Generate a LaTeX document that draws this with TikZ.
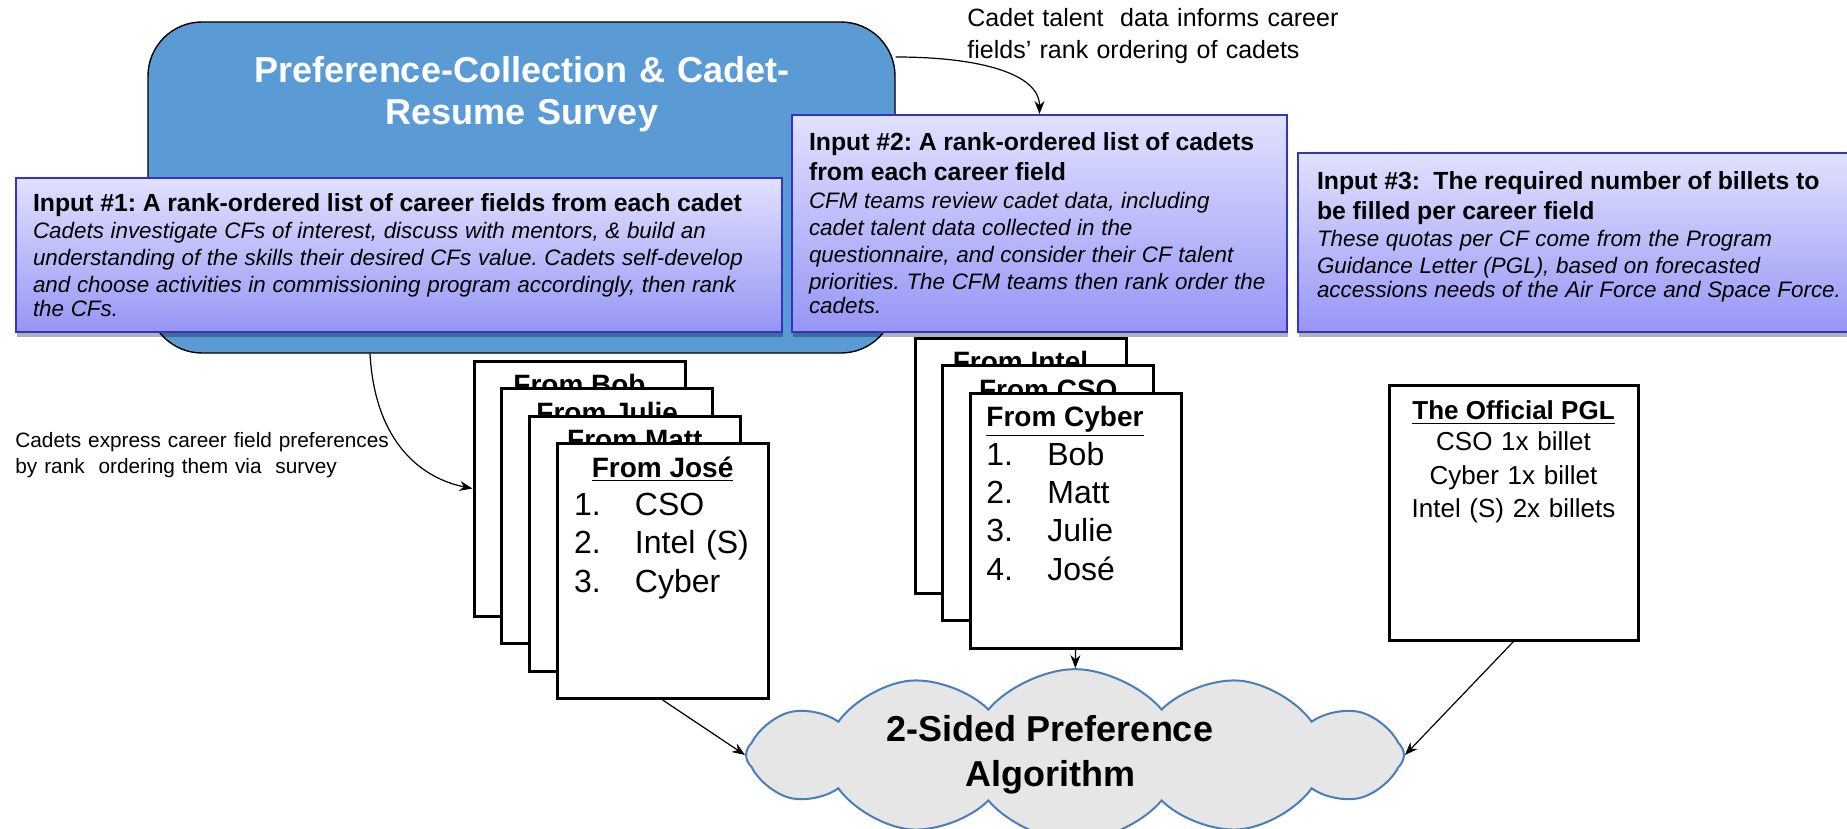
\documentclass[tikz,border=0pt]{standalone}
\usepackage{fontspec}
\setmainfont{Liberation Sans}
\usepackage{xcolor}
\usetikzlibrary{shapes.symbols, arrows.meta, positioning, calc, shadows}

\definecolor{surveyblue}{RGB}{91,155,213}
\definecolor{inputedge}{RGB}{51,51,204}
\definecolor{inputtop}{RGB}{225,225,255}
\definecolor{inputbottom}{RGB}{150,150,245}
\definecolor{cloudgray}{RGB}{230,230,230}
\definecolor{cloudblue}{RGB}{74,126,187}

\frenchspacing
\newcommand{\inhead}{\fontsize{12.4}{15}\selectfont\bfseries\upshape}
\newcommand{\inbody}{\fontsize{11.2}{13.6}\selectfont\mdseries\itshape}
\newcommand{\rankitem}[2]{\makebox[30.5pt][l]{#1.}#2}

\tikzstyle{surveybox} = [rectangle, rounded corners=27pt, draw=black, line width=0.7pt, fill=surveyblue, minimum width=373.5pt, minimum height=165.5pt]
\tikzstyle{inputbox} = [rectangle, draw=inputedge, line width=1pt, top color=inputtop, bottom color=inputbottom, inner xsep=8.5pt, inner ysep=0pt, align=left, drop shadow={shadow xshift=0.5pt, shadow yshift=-2.5pt, fill=black, opacity=0.3}]
\tikzstyle{note} = [anchor=base west, align=left, inner sep=0pt]
\tikzstyle{card} = [rectangle, draw=black, line width=1.5pt, fill=white, minimum width=105.5pt, minimum height=127.5pt, inner sep=0pt]
\tikzstyle{cardhead} = [anchor=base, inner sep=0pt, font=\fontsize{14}{16}\selectfont\bfseries]
\tikzstyle{cardlist} = [anchor=base west, align=left, text width=90pt, inner sep=0pt, font=\fontsize{16}{19.2}\selectfont]
\tikzstyle{algocloud} = [cloud, cloud puffs=12, cloud puff arc=100, cloud ignores aspect, inner sep=0pt, minimum width=329pt, minimum height=62pt, draw=cloudblue, line width=1pt, fill=cloudgray, align=center, font=\fontsize{18}{22.5}\selectfont\bfseries]
\tikzstyle{arrow} = [semithick,->,>={Stealth[length=6.5pt,width=5pt]}]

\begin{document}
\begin{tikzpicture}[x=0.5pt, y=-0.5pt]
\useasboundingbox (0,0) rectangle (1847,829);

% survey and the three inputs
\node (survey) [surveybox] at (521.5,187.5) {};
\node (surveytitle) [anchor=base, align=center, text width=300pt, inner sep=0pt, text=white, font=\fontsize{18}{21}\selectfont\bfseries] at (522,83) {Preference-Collection \& Cadet-\\Resume Survey};

\node (in1) [inputbox, minimum width=383pt, minimum height=77pt, text width=366pt] at (399,255) {\inhead Input \#1: A rank-ordered list of career fields from each cadet\par
\inbody Cadets investigate CFs of interest, discuss with mentors, \& build an\\ understanding of the skills their desired CFs value. Cadets self-develop\\ and choose activities in commissioning program accordingly, then rank\\ the CFs.};
\node (in2) [inputbox, minimum width=247.5pt, minimum height=108.5pt, text width=230.5pt] at (1039.5,223.5) {\inhead Input \#2: A rank-ordered list of cadets\\ from each career field\par
\inbody CFM teams review cadet data, including\\ cadet talent data collected in the\\ questionnaire, and consider their CF talent\\ priorities. The CFM teams then rank order the\\ cadets.};
\node (in3) [inputbox, minimum width=301pt, minimum height=89.5pt, text width=282pt, inner xsep=9.5pt] at (1599,242.5) {\inhead Input \#3:~ The required number of billets to\\ be filled per career field\par
\inbody These quotas per CF come from the Program\\ Guidance Letter (PGL), based on forecasted\\ accessions needs of the Air Force and Space Force.\rule[-8pt]{0pt}{0pt}};

% notes
\node (talentnote) [note, text width=200pt, font=\fontsize{12.5}{16}\selectfont] at (967,27) {Cadet talent~ data informs career\\fields’ rank ordering of cadets};
\node (surveynote) [note, text width=200pt, font=\fontsize{10.4}{13}\selectfont] at (15,447.5) {Cadets express career field preferences\\by rank~ ordering them via~ survey};

% cadet lists
\node (bob) [card] at (579.5,488.5) {};
\node (bobhead) [cardhead] at ([yshift=-17.5pt]bob.north) {\underline{From Bob}};
\node (julie) [card] at ($(bob)+(27.7,27.5)$) {};
\node (juliehead) [cardhead] at ([yshift=-17.5pt]julie.north) {\underline{From Julie}};
\node (matt) [card] at ($(bob)+(55.4,55)$) {};
\node (matthead) [cardhead] at ([yshift=-17.5pt]matt.north) {\underline{From Matt}};
\node (jose) [card] at ($(bob)+(83.1,82.5)$) {};
\node (josehead) [cardhead] at ([yshift=-17.5pt]jose.north) {\underline{From José}};
\node (joselist) [cardlist] at ([shift={(9pt,-36.75pt)}]jose.north west) {\rankitem{1}{CSO}\\ \rankitem{2}{Intel (S)}\\ \rankitem{3}{Cyber}};

% career field lists
\node (intel) [card] at (1020.5,465.5) {};
\node (intelhead) [cardhead] at ([yshift=-17.5pt]intel.north) {\underline{From Intel}};
\node (cso) [card] at ($(intel)+(27.75,27.5)$) {};
\node (csohead) [cardhead] at ([yshift=-17.5pt]cso.north) {\underline{From CSO}};
\node (cyber) [card] at ($(intel)+(55.5,55)$) {};
\node (cyberhead) [cardhead, anchor=base west] at ([shift={(8.5pt,-17.5pt)}]cyber.north west) {\underline{From Cyber}};
\node (cyberlist) [cardlist] at ([shift={(8.5pt,-36.75pt)}]cyber.north west) {\rankitem{1}{Bob}\\ \rankitem{2}{Matt}\\ \rankitem{3}{Julie}\\ \rankitem{4}{José}};

% billets
\node (pgl) [card, minimum width=124.5pt] at (1513.5,512.5) {};
\node (pglhead) [cardhead, font=\fontsize{13}{16}\selectfont\bfseries] at ([yshift=-18.2pt]pgl.north) {\underline{The Official PGL}};
\node (pgllist) [anchor=base, align=center, text width=120pt, inner sep=0pt, font=\fontsize{13}{16.75}\selectfont] at ([yshift=-33.7pt]pgl.north) {CSO 1x billet\\Cyber 1x billet\\Intel (S) 2x billets};

\node (algo) [algocloud] at (1075,755) {2-Sided Preference\hspace*{25pt}\\Algorithm\hspace*{25pt}};

\draw [arrow] ([yshift=65.25pt]survey.east) .. controls +(85,0) and +(0,-40) .. (in2.north);
\draw [arrow] ([xshift=-75.75pt]survey.south) .. controls +(5,90) and +(-50,-10) .. (bob.west);
\draw [arrow] (jose.south) -- (algo.west);
\draw [arrow] (cyber) -- (algo);
\draw [arrow] (pgl.south) -- (algo.east);

\end{tikzpicture}
\end{document}
